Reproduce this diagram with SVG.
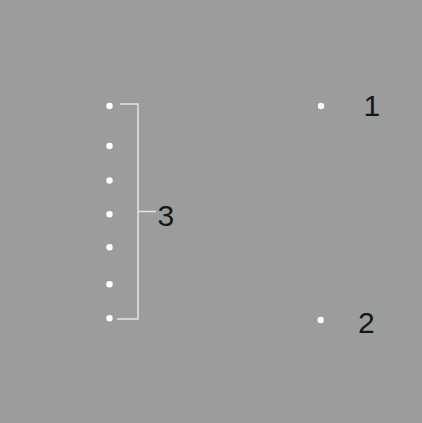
<svg xmlns="http://www.w3.org/2000/svg" width="422" height="423" viewBox="0 0 422 423">
<style>
.dot{fill:#ffffff}
.ln{stroke:#e4e4e4;stroke-width:1.5;fill:none}
.lb{font-family:"Liberation Sans",Arial,sans-serif;font-size:30px;fill:#161616}
</style>
<rect x="0" y="0" width="422" height="423" fill="#9b9d9c"/>
<g id="connectors">
<polyline class="ln" points="120,104 138,104 138,319 117,319"/>
<line class="ln" x1="138" y1="211.5" x2="156" y2="211.5"/>
</g>
<g id="node-3">
<circle class="dot" cx="109.5" cy="106" r="3.2"/>
<circle class="dot" cx="109.5" cy="146" r="3.2"/>
<circle class="dot" cx="109.5" cy="180.5" r="3.2"/>
<circle class="dot" cx="109.5" cy="214.3" r="3.2"/>
<circle class="dot" cx="109.5" cy="247.3" r="3.2"/>
<circle class="dot" cx="109.5" cy="284.3" r="3.2"/>
<circle class="dot" cx="109.5" cy="318.3" r="3.2"/>
<text class="lb" x="157.5" y="225.5">3</text>
</g>
<g id="node-1">
<circle class="dot" cx="321" cy="106" r="3.2"/>
<text class="lb" x="363.5" y="116">1</text>
</g>
<g id="node-2">
<circle class="dot" cx="320.7" cy="320" r="3.2"/>
<text class="lb" x="358" y="333">2</text>
</g>
</svg>
